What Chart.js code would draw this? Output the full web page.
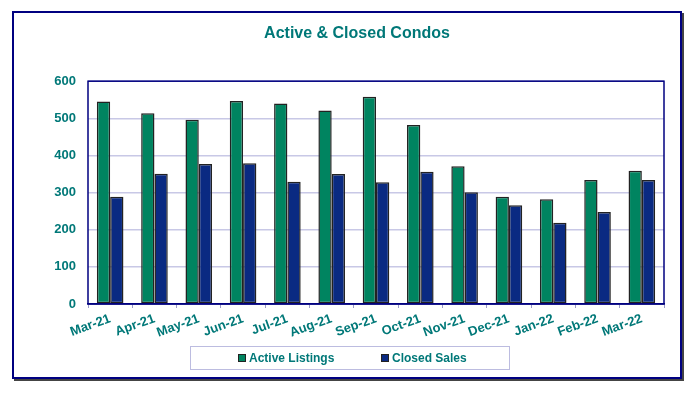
<!DOCTYPE html>
<html>
<head>
<meta charset="utf-8">
<script src="https://cdn.jsdelivr.net/npm/chart.js@4.4.0/dist/chart.umd.min.js"></script>
<style>
  body { margin: 0; background: #fff; }
  #wrap { position: relative; width: 700px; height: 393px; }
  #frame { position: absolute; left: 12px; top: 11px; width: 666px; height: 364px;
           border: 2px solid #000080; box-shadow: 2px 2px 0 #444; }
  #grafico { position: absolute; left: 0; top: 0; }
  #legenda { position: absolute; left: 190px; top: 346px; width: 318px; height: 22px;
             border: 1px solid #bcbce0; display: flex; align-items: center;
             font: bold 12px "Liberation Sans", Arial, sans-serif; color: #007878; }
  #legenda span.item { position: absolute; display: flex; align-items: center; }
  #legenda span.caixa { display: inline-block; width: 6px; height: 6px; border: 1px solid #222; margin-right: 3px; }
</style>
</head>
<body>
<div id="wrap">
  <div id="frame"></div>
  <canvas id="grafico" width="700" height="393"></canvas>
  <div id="legenda"></div>
</div>
<script>
/* Dados do gráfico: anúncios ativos e vendas fechadas de condos, por mês */
const labels_meses = [
    'Mar-21', 'Apr-21', 'May-21', 'Jun-21', 'Jul-21', 'Aug-21', 'Sep-21',
    'Oct-21', 'Nov-21', 'Dec-21', 'Jan-22', 'Feb-22', 'Mar-22'
];

const active_listings = [545, 514, 496, 547, 540, 521, 558, 482, 371, 289, 282, 334, 359];
const closed_sales = [289, 351, 377, 379, 329, 350, 328, 356, 301, 266, 219, 248, 334];

const y_ticks = [0, 100, 200, 300, 400, 500, 600];

const teal = '#007878';
const fonte = '"Liberation Sans", Arial, sans-serif';

/* borda da área do gráfico */
const plugin_borda = {
    id: 'borda_area',
    beforeDatasetsDraw(chart) {
        const a = chart.chartArea;
        const ctx = chart.ctx;
        ctx.save();
        ctx.strokeStyle = '#000080';
        ctx.lineWidth = 1.5;
        ctx.strokeRect(a.left, a.top, a.right - a.left, a.bottom - a.top);
        ctx.restore();
    }
};

const data_condos = {
    labels: labels_meses,
    datasets: [{
        label: 'Active Listings',
        data: active_listings,
        backgroundColor: 'rgb(0, 132, 96)',
        borderColor: '#222',
        borderWidth: 1.5,
        borderSkipped: false,
        categoryPercentage: 0.6,
        barPercentage: 1
    }, {
        label: 'Closed Sales',
        data: closed_sales,
        backgroundColor: 'rgb(10, 42, 130)',
        borderColor: '#222',
        borderWidth: 1.5,
        borderSkipped: false,
        categoryPercentage: 0.6,
        barPercentage: 1
    }]
};

const config_condos = {
    type: 'bar',
    data: data_condos,
    options: {
        responsive: false,
        animation: false,
        layout: { padding: { left: 50, right: 36, top: 0, bottom: 49 } },
        plugins: {
            legend: { display: false },
            tooltip: { enabled: false },
            title: {
                display: true,
                text: 'Active & Closed Condos',
                color: teal,
                font: { family: fonte, size: 16, weight: 'bold' },
                padding: { top: 24, bottom: 38 }
            }
        },
        scales: {
            x: {
                afterFit(scale) { scale.height = 40; },
                grid: { drawOnChartArea: false, drawTicks: true, tickLength: 4, color: '#9c9cc8' },
                border: { color: '#000080', width: 1.5 },
                ticks: {
                    color: teal,
                    font: { family: fonte, size: 13, weight: 'bold' },
                    autoSkip: false,
                    minRotation: 20,
                    maxRotation: 20,
                    padding: 3
                }
            },
            y: {
                min: 0,
                max: 600,
                afterFit(scale) { scale.width = 38; },
                afterBuildTicks(scale) { scale.ticks = y_ticks.map(v => ({ value: v })); },
                grid: { color: '#c8c8e6', lineWidth: 1.5, drawTicks: false },
                border: { display: false },
                ticks: {
                    color: teal,
                    font: { family: fonte, size: 13, weight: 'bold' },
                    padding: 12
                }
            }
        }
    },
    plugins: [plugin_borda]
};

const grafico_condos = new Chart(
    document.getElementById('grafico'),
    config_condos
);

/* legenda em html, a partir dos datasets */
const legenda = document.getElementById('legenda');
const posicoes_legenda = [47, 190];
data_condos.datasets.forEach((ds, i) => {
    const item = document.createElement('span');
    item.className = 'item';
    item.style.left = posicoes_legenda[i] + 'px';
    const caixa = document.createElement('span');
    caixa.className = 'caixa';
    caixa.style.background = ds.backgroundColor;
    item.appendChild(caixa);
    item.appendChild(document.createTextNode(ds.label));
    legenda.appendChild(item);
});
</script>
</body>
</html>
